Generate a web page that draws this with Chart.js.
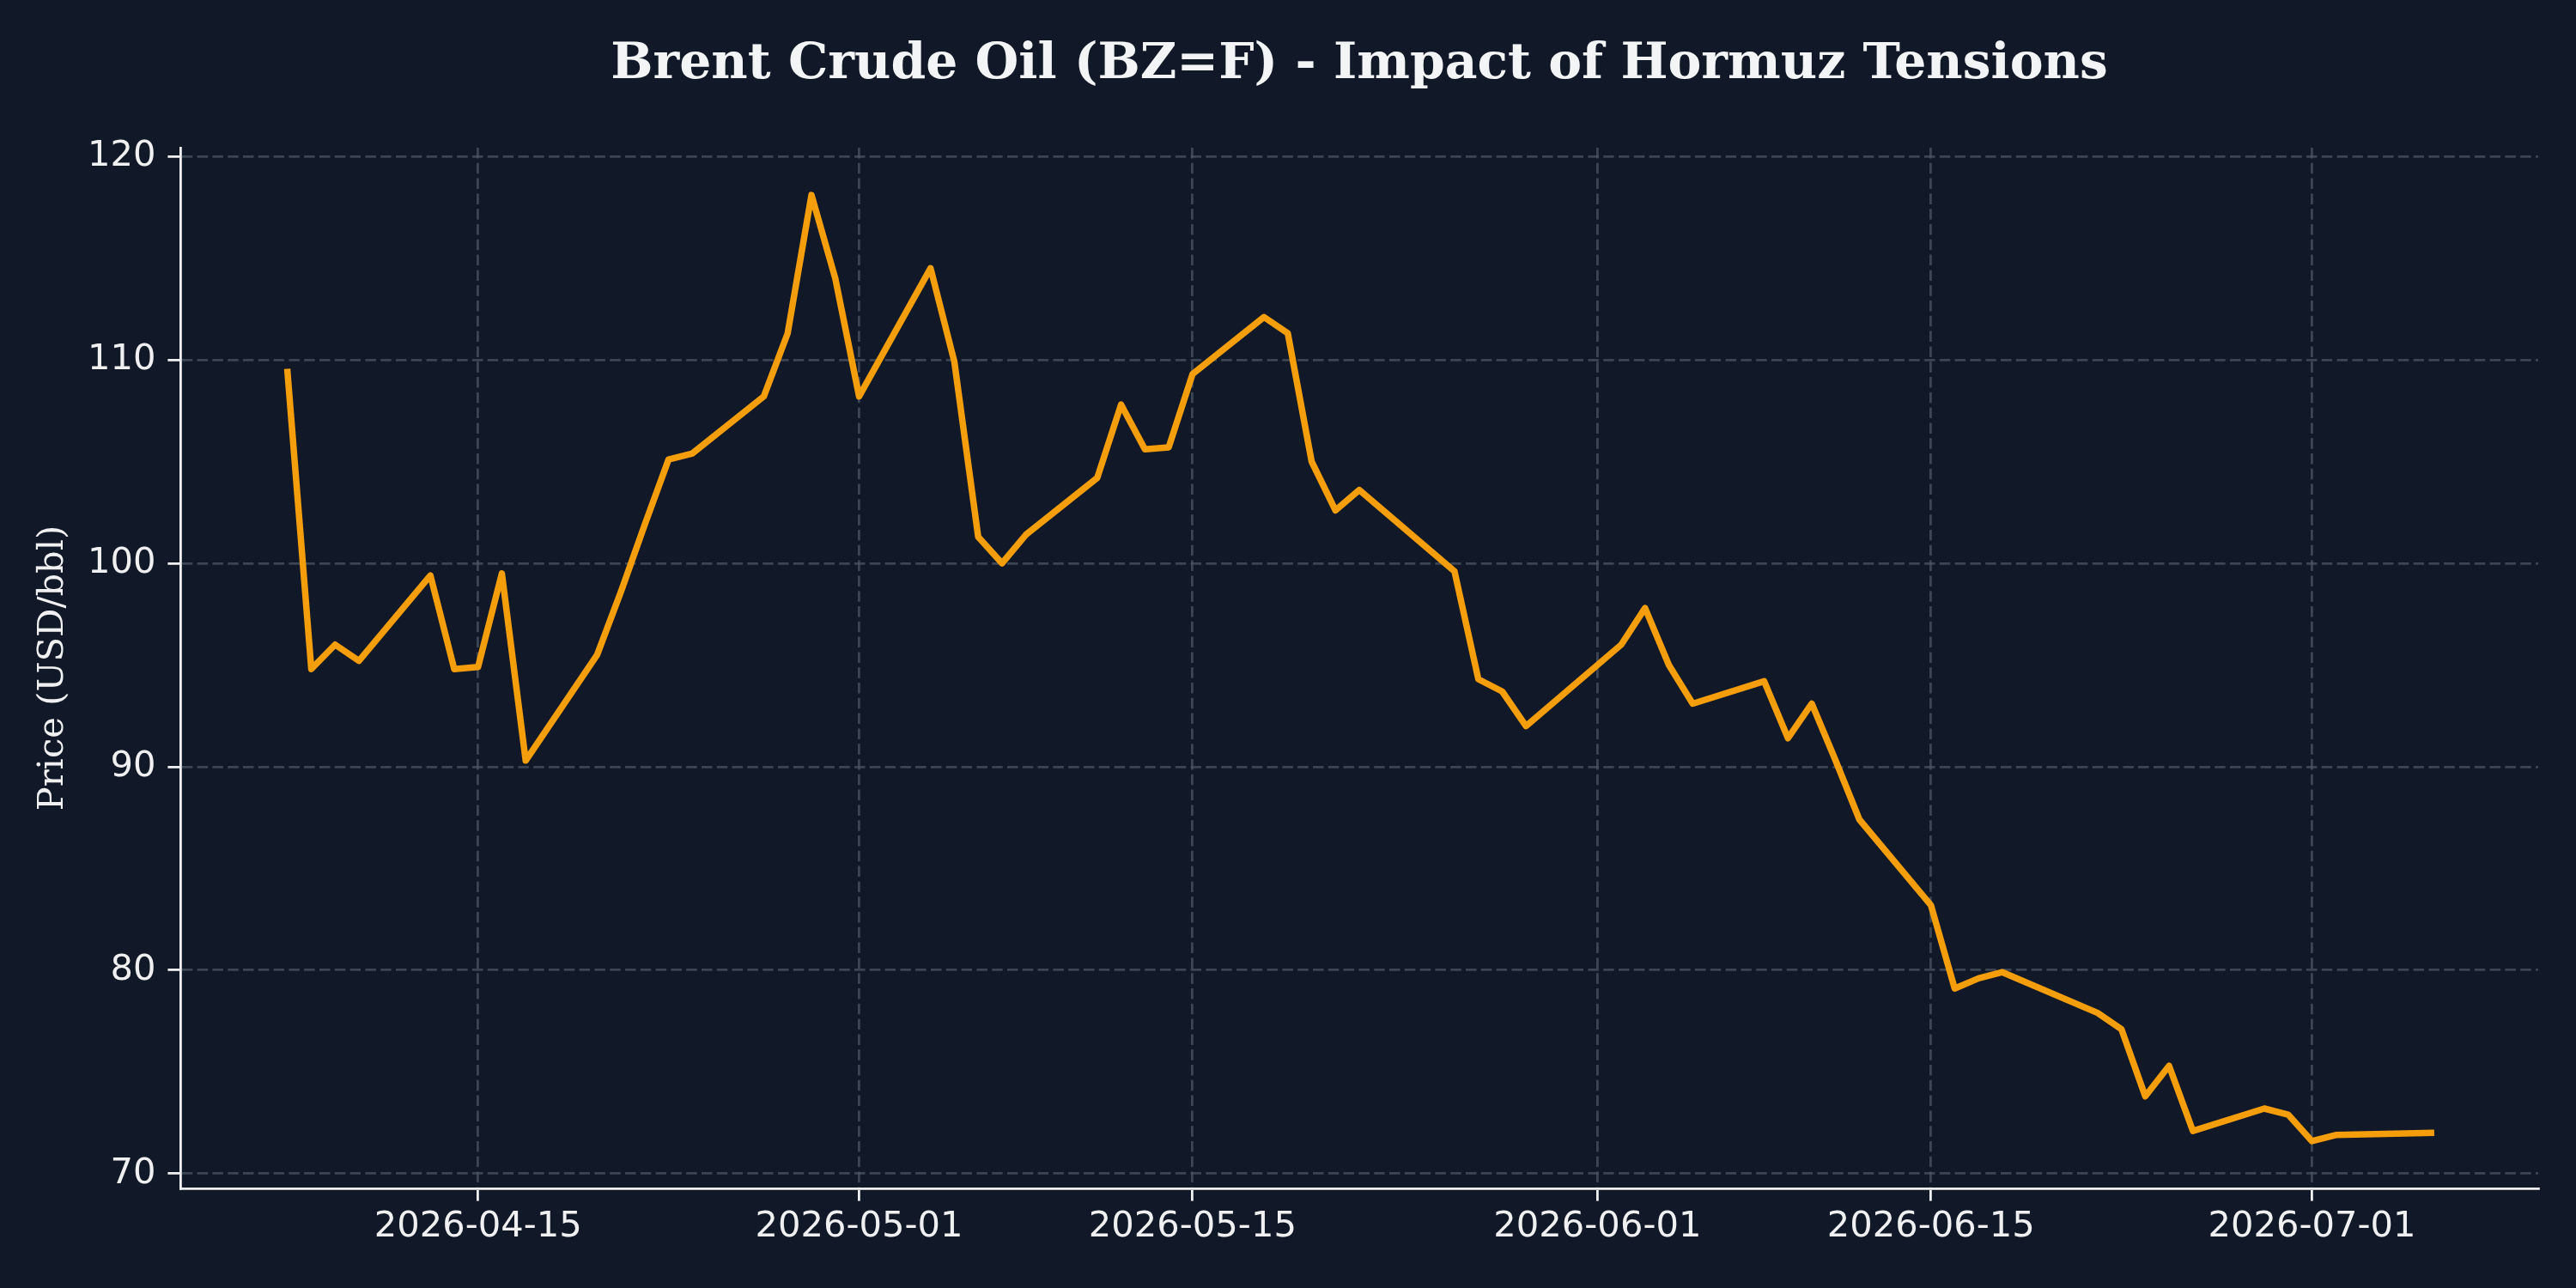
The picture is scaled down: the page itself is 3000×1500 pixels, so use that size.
<!DOCTYPE html>
<html>
<head>
<meta charset="utf-8">
<script src="https://cdn.jsdelivr.net/npm/chart.js@4.4.1/dist/chart.umd.min.js"></script>
<style>
  html, body { margin: 0; padding: 0; background: #111827; }
  #wrap { width: 3000px; height: 1500px; }
  canvas { display: block; }
</style>
</head>
<body>
<div id="wrap"><canvas id="c" width="3000" height="1500" style="width:3000px;height:1500px"></canvas></div>
<script>
// ---- Data ----
const chartTitle = 'Brent Crude Oil (BZ=F) - Impact of Hormuz Tensions';
const yAxisTitle = 'Price (USD/bbl)';
const dates = [
  '2026-04-07','2026-04-08','2026-04-09','2026-04-10','2026-04-13','2026-04-14','2026-04-15','2026-04-16','2026-04-17',
  '2026-04-20','2026-04-21','2026-04-22','2026-04-23','2026-04-24','2026-04-27','2026-04-28','2026-04-29','2026-04-30',
  '2026-05-01','2026-05-04','2026-05-05','2026-05-06','2026-05-07','2026-05-08','2026-05-11','2026-05-12','2026-05-13',
  '2026-05-14','2026-05-15','2026-05-18','2026-05-19','2026-05-20','2026-05-21','2026-05-22','2026-05-26','2026-05-27',
  '2026-05-28','2026-05-29','2026-06-02','2026-06-03','2026-06-04','2026-06-05','2026-06-08','2026-06-09','2026-06-10',
  '2026-06-11','2026-06-12','2026-06-15','2026-06-16','2026-06-17','2026-06-18','2026-06-22','2026-06-23','2026-06-24',
  '2026-06-25','2026-06-26','2026-06-29','2026-06-30','2026-07-01','2026-07-02','2026-07-06'
];
const prices = [
  109.4, 94.8, 96.0, 95.2, 99.4, 94.8, 94.9, 99.5, 90.3,
  95.5, 98.6, 101.9, 105.1, 105.4, 108.2, 111.3, 118.1, 114.0,
  108.2, 114.5, 109.9, 101.3, 100.0, 101.4, 104.2, 107.8, 105.6,
  105.7, 109.3, 112.1, 111.3, 105.0, 102.6, 103.6, 99.6, 94.3,
  93.7, 92.0, 96.0, 97.8, 95.0, 93.1, 94.2, 91.4, 93.1,
  90.3, 87.4, 83.2, 79.1, 79.6, 79.9, 77.9, 77.1, 73.8,
  75.3, 72.1, 73.2, 72.9, 71.6, 71.9, 72.0
];
const xTickLabels = ['2026-04-15','2026-05-01','2026-05-15','2026-06-01','2026-06-15','2026-07-01'];
const yTickValues = [70, 80, 90, 100, 110, 120];

// ---- Helpers ----
const DAY = 86400000;
const toDay = s => Date.UTC(+s.slice(0,4), +s.slice(5,7) - 1, +s.slice(8,10)) / DAY;
const dayToLabel = d => new Date(d * DAY).toISOString().slice(0, 10);
const points = dates.map((d, i) => ({ x: toDay(d), y: prices[i] }));
const xTickDays = xTickLabels.map(toDay);
const firstDay = toDay(dates[0]);
const lastDay = toDay(dates[dates.length - 1]);
const xPad = (lastDay - firstDay) * 0.05;
const yMinData = Math.min(...prices), yMaxData = Math.max(...prices);
const yPad = (yMaxData - yMinData) * 0.05;

const BG = '#111827';
const FG = '#f0f0f2';
const GRID = 'rgba(75,85,99,0.75)';
const LINE = '#f59e0b';

const bgPlugin = {
  id: 'bg',
  beforeDraw(chart) {
    const ctx = chart.ctx;
    ctx.save();
    ctx.fillStyle = BG;
    ctx.fillRect(0, 0, chart.width, chart.height);
    ctx.restore();
  }
};
const titlePlugin = {
  id: 'centeredTitle',
  afterDraw(chart) {
    const ctx = chart.ctx, ca = chart.chartArea;
    ctx.save();
    ctx.font = 'bold 58.3px "DejaVu Serif"';
    ctx.fillStyle = '#f3f4f6';
    ctx.textAlign = 'center';
    ctx.textBaseline = 'alphabetic';
    ctx.fillText(chartTitle, (ca.left + ca.right) / 2, 90.7);
    ctx.restore();
  }
};

const tickFont = { family: 'DejaVu Sans', size: 41.67 };

new Chart(document.getElementById('c'), {
  type: 'line',
  data: {
    datasets: [{
      data: points,
      borderColor: LINE,
      borderWidth: 7.5,
      pointRadius: 0,
      tension: 0,
      fill: false,
      borderJoinStyle: 'round',
      borderCapStyle: 'square'
    }]
  },
  options: {
    responsive: false,
    animation: false,
    devicePixelRatio: 1,
    layout: { padding: { top: 172, right: 44, bottom: 0, left: 0 } },
    plugins: {
      legend: { display: false },
      tooltip: { enabled: false },
      title: { display: false }
    },
    scales: {
      x: {
        type: 'linear',
        min: firstDay - xPad,
        max: lastDay + xPad,
        afterBuildTicks: s => { s.ticks = xTickDays.map(v => ({ value: v })); },
        afterFit: s => { s.height = 116; },
        ticks: {
          autoSkip: false, maxRotation: 0, minRotation: 0,
          color: FG, font: tickFont, padding: 6,
          callback: v => dayToLabel(v)
        },
        grid: { color: GRID, lineWidth: 2.8, tickColor: FG, tickLength: 14.6, tickWidth: 2.8 },
        border: { display: true, color: FG, width: 2.8, dash: [12.5, 5.3] }
      },
      y: {
        type: 'linear',
        min: yMinData - yPad,
        max: yMaxData + yPad,
        afterBuildTicks: s => { s.ticks = yTickValues.map(v => ({ value: v })); },
        afterFit: s => { s.width = 210; },
        ticks: { color: FG, font: tickFont, padding: 14, callback: v => String(v) },
        grid: { color: GRID, lineWidth: 2.8, tickColor: FG, tickLength: 14.6, tickWidth: 2.8 },
        border: { display: true, color: FG, width: 2.8, dash: [12.5, 5.3] },
        title: {
          display: true, text: yAxisTitle, color: FG,
          font: { family: 'DejaVu Serif', size: 41.67, lineHeight: 1.2 },
          padding: { top: 37, bottom: 0 }
        }
      }
    }
  },
  plugins: [bgPlugin, titlePlugin]
});
</script>
</body>
</html>
